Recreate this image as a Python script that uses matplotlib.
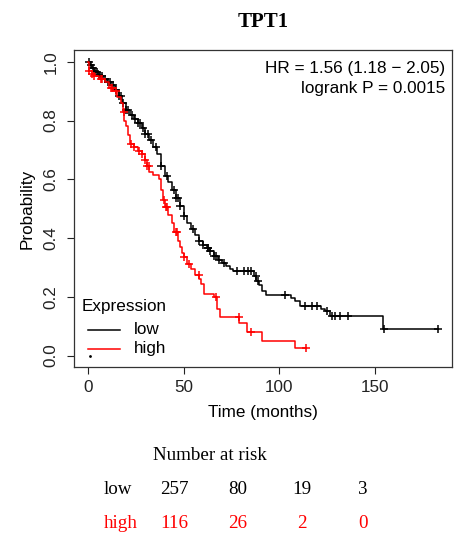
import numpy as np
import matplotlib
matplotlib.use("Agg")
import matplotlib.pyplot as plt

# ---------------- data ----------------
title = "TPT1"
groups = ["low", "high"]
colors = ["black", "red"]

low_times = [0, 1, 2, 3, 4, 5, 6, 8, 10, 12, 14, 16, 18, 20, 22, 24, 26, 28, 30, 32, 34, 36,
             38, 40, 42, 44, 46, 48, 50, 52, 54, 56, 58, 60, 62, 64, 66, 68, 70, 72, 74, 76,
             87, 88, 89.5, 91, 93, 106, 108, 111, 122, 124, 126.5, 154.5, 183]
low_surv = [1.0, 0.99, 0.98, 0.97, 0.965, 0.955, 0.95, 0.94, 0.93, 0.92, 0.905, 0.885, 0.86,
            0.835, 0.82, 0.805, 0.79, 0.775, 0.755, 0.735, 0.71, 0.685, 0.645, 0.61, 0.59,
            0.565, 0.535, 0.51, 0.475, 0.45, 0.43, 0.41, 0.39, 0.375, 0.365, 0.355, 0.34, 0.325,
            0.315, 0.305, 0.295, 0.288, 0.27, 0.255, 0.24, 0.22, 0.205, 0.195, 0.185, 0.17,
            0.16, 0.15, 0.134, 0.089, 0.089]
low_censor = [0.5, 1.5, 2.5, 3.5, 4.5, 5.5, 6.5, 7.5, 9, 10.5, 11.5, 13, 14.5, 16, 17, 18.5,
              20, 21, 23, 24.7, 26, 27, 29, 30, 31.5, 33, 35.5, 38, 41.5, 45, 46, 47, 48, 50,
              55, 58, 60, 62.5, 63, 64, 66, 66.7, 68.6, 71, 78, 81.6, 83.4, 85, 87.6, 89, 103,
              113.6, 117, 119.6, 125, 127.4, 129, 131.6, 136, 155, 183]

high_times = [0, 0.5, 2, 3, 6, 9, 11, 13, 15, 17, 18.5, 19, 20, 21, 22, 24, 26, 28, 30, 31,
              32, 34, 37, 38, 39, 40, 42, 44, 45, 47, 48, 49, 50, 52, 54, 56, 58, 59, 60.5, 66,
              67.5, 69, 79, 83, 91, 108, 114]
high_surv = [1.0, 0.97, 0.96, 0.95, 0.94, 0.93, 0.91, 0.90, 0.88, 0.86, 0.83, 0.80, 0.78,
             0.75, 0.72, 0.71, 0.695, 0.685, 0.665, 0.645, 0.625, 0.615, 0.60, 0.565, 0.53,
             0.505, 0.48, 0.45, 0.42, 0.39, 0.37, 0.35, 0.335, 0.31, 0.295, 0.275, 0.26, 0.245,
             0.21, 0.20, 0.16, 0.13, 0.11, 0.08, 0.049, 0.025, 0.025]
high_censor = [0.5, 2.3, 3.1, 6.6, 7.5, 11.9, 12.5, 14.5, 18.9, 22.3, 24, 26.5, 28.4, 30, 31,
               31.9, 39.7, 40.6, 41.5, 45.8, 46.7, 50, 52.6, 57.8, 66.7, 78.7, 85, 114]

hr_text = ["HR = 1.56 (1.18 \u2212 2.05)", "logrank P = 0.0015"]
x_ticks = [0, 50, 100, 150]
y_ticks = [0.0, 0.2, 0.4, 0.6, 0.8, 1.0]
y_ticklabels = ["0.0", "0.2", "0.4", "0.6", "0.8", "1.0"]

risk_title = "Number at risk"
risk_low = ["257", "80", "19", "3"]
risk_high = ["116", "26", "2", "0"]

# ---------------- figure ----------------
W, H = 472, 544
fig = plt.figure(figsize=(W / 100, H / 100), dpi=100)
sans = "Liberation Sans"
serif = "Liberation Serif"
FS = 12.3

L, R, T, B = 74, 452, 50, 367.3
ax = fig.add_axes([L / W, 1 - B / H, (R - L) / W, (B - T) / H])

def step_value(times, surv, t):
    i = np.searchsorted(np.asarray(times), t, side="right") - 1
    return np.asarray(surv)[i]

series = [(low_times, low_surv, low_censor), (high_times, high_surv, high_censor)]
for (tt, ss, cc), col in zip(series, colors):
    ax.step(tt, ss, where="post", color=col, lw=1.1)
    cy = [step_value(tt, ss, c) for c in cc]
    ax.plot(cc, cy, ls="none", marker="+", ms=5.5, mew=1.1, color=col)

ax.set_xlim(-7.32, 190.32)
ax.set_ylim(-0.04, 1.04)
ax.set_xticks(x_ticks)
ax.set_xticklabels([str(v) for v in x_ticks], fontsize=FS, family=sans)
ax.set_yticks(y_ticks)
ax.set_yticklabels(y_ticklabels, fontsize=FS, family=sans, rotation=90, va="center")
ax.tick_params(axis="both", length=5, width=0.8, colors="#222222")
ax.tick_params(axis="x", pad=4)
ax.tick_params(axis="y", pad=6)
for sp in ax.spines.values():
    sp.set_linewidth(0.9)
    sp.set_color("#333333")

ax.set_xlabel("Time (months)", fontsize=FS, family=sans)
ax.xaxis.set_label_coords(0.5, (B - 412) / (B - T))
ax.xaxis.label.set_va("center")
ax.set_ylabel("Probability", fontsize=FS, family=sans)
ax.yaxis.set_label_coords((27 - L) / (R - L), 0.5)
ax.yaxis.label.set_va("center")

def axc(xp, yp):
    return (xp - L) / (R - L), (B - yp) / (B - T)

ax.text(*axc(263, 22), title, transform=ax.transAxes, ha="center", va="center",
        fontsize=15, fontweight="bold", family=serif)
ax.text(*axc(445, 68), hr_text[0], transform=ax.transAxes, ha="right", va="center",
        fontsize=FS, family=sans)
ax.text(*axc(445, 88), hr_text[1], transform=ax.transAxes, ha="right", va="center",
        fontsize=FS, family=sans)

# legend
ax.text(*axc(82, 307), "Expression", transform=ax.transAxes, ha="left", va="center",
        fontsize=FS, family=sans)
for name, col, yp in zip(groups, colors, [330, 349]):
    x0, y0 = axc(88, yp)
    x1, _ = axc(120, yp)
    ax.plot([x0, x1], [y0, y0], color=col, lw=1.1, transform=ax.transAxes)
    ax.text(*axc(134, yp), name, transform=ax.transAxes, ha="left", va="center",
            fontsize=FS, family=sans)
ax.plot(*axc(90, 356), marker=".", ms=2, color="black", transform=ax.transAxes)

# number at risk table
def figc(xp, yp):
    return xp / W, 1 - yp / H

fig.text(*figc(153, 456), risk_title, ha="left", va="center", fontsize=13.7, family=serif)
col_x = [174, 238, 302, 363]
fig.text(*figc(104, 490), groups[0], ha="left", va="center", fontsize=13.7, family=serif,
         color=colors[0])
fig.text(*figc(104, 523), groups[1], ha="left", va="center", fontsize=13.7, family=serif,
         color=colors[1])
for xp, a, b in zip(col_x, risk_low, risk_high):
    fig.text(*figc(xp, 490), a, ha="center", va="center", fontsize=13.7, family=serif,
             color=colors[0])
    fig.text(*figc(xp, 523), b, ha="center", va="center", fontsize=13.7, family=serif,
             color=colors[1])

fig.savefig("out.png", dpi=100)
